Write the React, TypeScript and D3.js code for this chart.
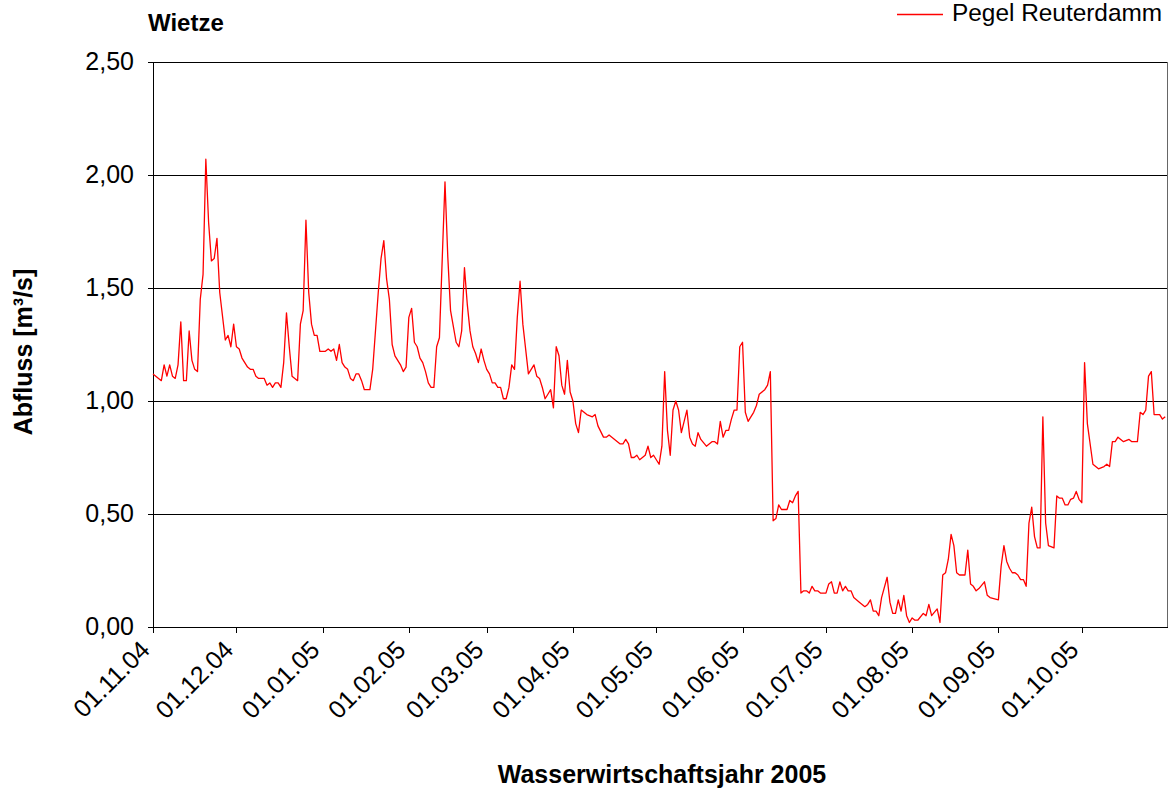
import React from 'react';
import * as d3 from 'd3';

const WIDTH = 1172;
const HEIGHT = 794;
const MARGIN = { top: 62, right: 4, bottom: 167, left: 153 };
const FONT = '"Liberation Sans", Arial, sans-serif';

const START = new Date(2004, 10, 1);
const END = new Date(2005, 10, 1);

const yTicks = [0, 0.5, 1, 1.5, 2, 2.5];

// [Tag seit 01.11.04, Abfluss m³/s]
const pegelReuterdamm: [number, number][] = [
  [0, 1.12], [3, 1.09], [4, 1.16], [5, 1.11], [6, 1.16], [7, 1.11], [8, 1.1], [9, 1.16],
  [10, 1.35], [11, 1.09], [12, 1.09], [13, 1.31], [14, 1.18], [15, 1.14], [16, 1.13],
  [17, 1.45], [18, 1.56], [19, 2.07], [20, 1.79], [21, 1.62], [22, 1.63], [23, 1.72],
  [24, 1.48], [26, 1.27], [27, 1.29], [28, 1.24], [29, 1.34], [30, 1.24], [31, 1.23],
  [32, 1.19], [34, 1.15], [35, 1.14], [36, 1.14], [37, 1.11], [38, 1.1], [40, 1.1],
  [41, 1.07], [42, 1.08], [43, 1.06], [44, 1.08], [45, 1.08], [46, 1.06], [47, 1.17],
  [48, 1.39], [49, 1.24], [50, 1.11], [51, 1.1], [52, 1.09], [53, 1.34], [54, 1.4],
  [55, 1.8], [56, 1.48], [57, 1.34], [58, 1.29], [59, 1.29], [60, 1.22], [62, 1.22],
  [63, 1.23], [64, 1.22], [65, 1.23], [66, 1.18], [67, 1.25], [68, 1.17], [69, 1.15],
  [70, 1.14], [71, 1.1], [72, 1.09], [73, 1.12], [74, 1.12], [75, 1.09], [76, 1.05],
  [77, 1.05], [78, 1.05], [79, 1.14], [80, 1.31], [81, 1.48], [82, 1.63], [83, 1.71],
  [84, 1.54], [85, 1.45], [86, 1.25], [87, 1.2], [88, 1.18], [89, 1.16], [90, 1.13],
  [91, 1.15], [92, 1.37], [93, 1.41], [94, 1.26], [95, 1.24], [96, 1.19], [97, 1.17],
  [98, 1.13], [99, 1.08], [100, 1.06], [101, 1.06], [102, 1.24], [103, 1.28], [105, 1.97],
  [106, 1.64], [107, 1.4], [108, 1.33], [109, 1.26], [110, 1.24], [111, 1.31], [112, 1.59],
  [113, 1.43], [114, 1.31], [115, 1.24], [116, 1.21], [117, 1.17], [118, 1.23], [119, 1.18],
  [120, 1.14], [121, 1.12], [122, 1.08], [123, 1.08], [124, 1.06], [125, 1.06], [126, 1.01],
  [127, 1.01], [128, 1.06], [129, 1.16], [130, 1.14], [131, 1.37], [132, 1.53], [133, 1.34],
  [134, 1.23], [135, 1.12], [137, 1.16], [138, 1.11], [139, 1.1], [140, 1.06], [141, 1.01],
  [142, 1.03], [143, 1.05], [144, 0.97], [145, 1.24], [146, 1.2], [147, 1.07], [148, 1.03],
  [149, 1.18], [150, 1.04], [151, 1.0], [152, 0.9], [153, 0.86], [154, 0.96], [155, 0.95],
  [156, 0.94], [158, 0.93], [159, 0.94], [160, 0.89], [162, 0.84], [163, 0.84], [164, 0.85],
  [165, 0.84], [166, 0.83], [167, 0.82], [168, 0.81], [169, 0.81], [170, 0.83], [171, 0.81],
  [172, 0.75], [173, 0.75], [174, 0.76], [175, 0.74], [176, 0.75], [177, 0.76], [178, 0.8],
  [179, 0.75], [180, 0.76], [181, 0.74], [182, 0.72], [183, 0.8], [184, 1.13], [185, 0.87],
  [186, 0.76], [187, 0.96], [188, 1.0], [189, 0.96], [190, 0.86], [192, 0.96], [193, 0.84],
  [194, 0.81], [195, 0.8], [196, 0.86], [197, 0.83], [199, 0.8], [200, 0.81], [201, 0.82],
  [202, 0.82], [203, 0.81], [204, 0.91], [205, 0.84], [206, 0.87], [207, 0.87], [208, 0.92],
  [209, 0.96], [210, 0.96], [211, 1.24], [212, 1.26], [213, 0.95], [214, 0.91], [215, 0.93],
  [216, 0.95], [217, 0.98], [218, 1.03], [220, 1.05], [221, 1.07], [222, 1.13], [223, 0.47],
  [224, 0.48], [225, 0.54], [226, 0.52], [228, 0.52], [229, 0.56], [230, 0.55], [231, 0.58],
  [232, 0.6], [233, 0.15], [234, 0.16], [235, 0.16], [236, 0.15], [237, 0.18], [238, 0.16],
  [239, 0.16], [240, 0.15], [242, 0.15], [243, 0.19], [244, 0.2], [245, 0.15], [246, 0.15],
  [247, 0.2], [248, 0.16], [249, 0.18], [250, 0.16], [251, 0.16], [252, 0.13], [254, 0.11],
  [255, 0.1], [256, 0.09], [257, 0.1], [258, 0.12], [259, 0.07], [260, 0.07], [261, 0.05],
  [262, 0.13], [264, 0.22], [265, 0.11], [266, 0.06], [267, 0.06], [268, 0.12], [269, 0.07],
  [270, 0.14], [271, 0.05], [272, 0.02], [273, 0.04], [274, 0.03], [275, 0.03], [277, 0.06],
  [278, 0.05], [279, 0.1], [280, 0.05], [282, 0.08], [283, 0.02], [284, 0.23], [285, 0.24],
  [286, 0.3], [287, 0.41], [288, 0.36], [289, 0.24], [290, 0.23], [292, 0.23], [293, 0.34],
  [294, 0.19], [295, 0.18], [296, 0.16], [297, 0.17], [299, 0.2], [300, 0.14], [301, 0.13],
  [304, 0.12], [305, 0.27], [306, 0.36], [307, 0.29], [308, 0.26], [309, 0.24], [310, 0.24],
  [311, 0.23], [312, 0.21], [313, 0.21], [314, 0.18], [315, 0.46], [316, 0.53], [317, 0.4],
  [318, 0.35], [319, 0.35], [320, 0.93], [321, 0.46], [322, 0.36], [324, 0.35], [325, 0.58],
  [326, 0.57], [327, 0.57], [328, 0.54], [329, 0.54], [330, 0.565], [331, 0.57], [332, 0.6],
  [333, 0.565], [334, 0.55], [335, 1.17], [336, 0.9], [338, 0.72], [339, 0.71], [340, 0.7],
  [342, 0.71], [343, 0.72], [344, 0.71], [345, 0.82], [346, 0.82], [347, 0.84], [348, 0.83],
  [349, 0.82], [351, 0.83], [352, 0.82], [354, 0.82], [355, 0.95], [356, 0.94], [357, 0.96],
  [358, 1.11], [359, 1.13], [360, 0.94], [362, 0.94], [363, 0.92], [364, 0.93],
];

const fmt = d3.timeFormat('%d.%m.%y');
const fmtY = (v: number) => d3.format('.2f')(v).replace('.', ',');

const App = () => {
  const width = WIDTH - MARGIN.left - MARGIN.right;
  const height = HEIGHT - MARGIN.top - MARGIN.bottom;

  const x = d3.scaleTime().domain([START, END]).range([0, width]);
  const y = d3.scaleLinear().domain([0, 2.5]).range([height, 0]);

  const months = d3.timeMonth.range(START, END);

  const line = d3
    .line<[number, number]>()
    .x((d) => x(d3.timeDay.offset(START, d[0])))
    .y((d) => y(d[1]));

  const crisp = (v: number) => Math.round(v) + 0.5;

  return (
    <svg
      width={WIDTH}
      height={HEIGHT}
      style={{ position: 'absolute', left: 0, top: 0, background: '#fff' }}
      fontFamily={FONT}
    >
      <text x={148} y={25} fontSize={24} fontWeight="bold" dominantBaseline="middle">
        Wietze
      </text>

      {/* legend */}
      <line x1={897} x2={943} y1={14.5} y2={14.5} stroke="#f00" strokeWidth={1.3} />
      <text x={952} y={15} fontSize={24.4} dominantBaseline="middle">
        Pegel Reuterdamm
      </text>

      <g transform={`translate(${MARGIN.left}, ${MARGIN.top})`}>
        {yTicks.map((t) => (
          <g key={t}>
            <line x1={0} x2={width} y1={crisp(y(t))} y2={crisp(y(t))} stroke="#000" />
            <line x1={-5} x2={0} y1={crisp(y(t))} y2={crisp(y(t))} stroke="#000" />
            <text
              x={-19}
              y={y(t) + 1}
              fontSize={25}
              textAnchor="end"
              dominantBaseline="middle"
            >
              {fmtY(t)}
            </text>
          </g>
        ))}

        <line x1={0.5} x2={0.5} y1={0} y2={height} stroke="#000" />
        <line x1={width - 0.5} x2={width - 0.5} y1={0} y2={height} stroke="#666" />

        {months.map((m) => (
          <g key={+m}>
            <line x1={crisp(x(m))} x2={crisp(x(m))} y1={height} y2={height + 6} stroke="#000" />
            <text
              transform={`translate(${x(m) - 14}, ${height + 12}) rotate(-45)`}
              fontSize={25}
              textAnchor="end"
              dy="0.7em"
            >
              {fmt(m)}
            </text>
          </g>
        ))}

        <path
          d={line(pegelReuterdamm) as string}
          fill="none"
          stroke="#f00"
          strokeWidth={1.3}
          strokeLinejoin="round"
        />
      </g>

      <text
        transform={`translate(25, 352) rotate(-90)`}
        fontSize={25}
        fontWeight="bold"
        textAnchor="middle"
        dominantBaseline="middle"
      >
        Abfluss [m³/s]
      </text>
      <text
        x={662}
        y={776}
        fontSize={25}
        fontWeight="bold"
        textAnchor="middle"
        dominantBaseline="middle"
      >
        Wasserwirtschaftsjahr 2005
      </text>
    </svg>
  );
};

export default App;
